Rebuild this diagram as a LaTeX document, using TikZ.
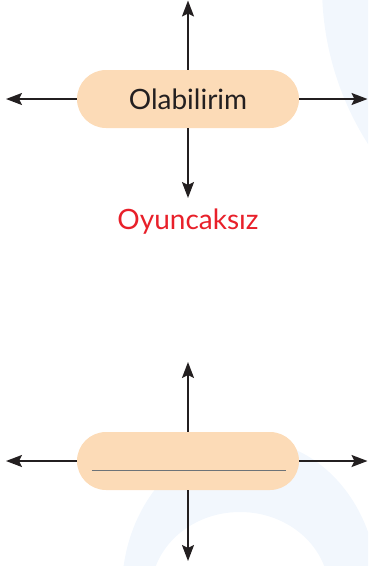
\documentclass[tikz,border=0pt]{standalone}
\usepackage{fontspec}
\setmainfont{Lato}
\usetikzlibrary{arrows.meta}
\definecolor{pill}{HTML}{FCDBB7}
\definecolor{ink}{HTML}{231F20}
\definecolor{redtxt}{HTML}{E8202A}
\definecolor{bgblue}{HTML}{F2F7FD}
\definecolor{blankline}{HTML}{6D7378}
\tikzset{
  pillbox/.style={fill=pill, rounded corners=29pt, minimum width=222pt, minimum height=58pt, inner sep=0pt, text=ink, font=\fontsize{28}{32}\selectfont},
  arr/.style={draw=ink, line width=2pt, -{Stealth[length=16pt,width=12pt,inset=3pt]}},
  answer/.style={text=redtxt, font=\fontsize{28}{32}\selectfont}
}
\begin{document}
\begin{tikzpicture}[x=1pt,y=-1pt]
\useasboundingbox (0,0) rectangle (368,566);
\begin{scope}
\clip (0,0) rectangle (368,566);
\fill[bgblue] (616,-14) circle [radius=294pt];
\fill[bgblue, even odd rule] (250,590) ellipse [x radius=128pt, y radius=150pt]
  (240,592) ellipse [x radius=89pt, y radius=80pt];
\end{scope}
% top diagram
\node[pillbox] (box1) at (188,99) {Olabilirim};
\coordinate (t1) at (188,0.5);
\coordinate (b1) at (188,198);
\coordinate (l1) at (6,99);
\coordinate (r1) at (367.5,99);
\draw[arr] (box1.north) -- (t1);
\draw[arr] (box1.south) -- (b1);
\draw[arr] (box1.west) -- (l1);
\draw[arr] (box1.east) -- (r1);
\node[answer, anchor=base] (ans) at (188,229) {Oyuncaksız};
% bottom diagram
\node[pillbox] (box2) at (188,461) {};
\coordinate (t2) at (188,362);
\coordinate (b2) at (188,561);
\coordinate (l2) at (6,461);
\coordinate (r2) at (367.5,461);
\draw[arr] (box2.north) -- (t2);
\draw[arr] (box2.south) -- (b2);
\draw[arr] (box2.west) -- (l2);
\draw[arr] (box2.east) -- (r2);
\draw[blankline, line width=1pt] ([xshift=15pt,yshift=-9pt]box2.west) -- ([xshift=-13pt,yshift=-9pt]box2.east);
\end{tikzpicture}
\end{document}
